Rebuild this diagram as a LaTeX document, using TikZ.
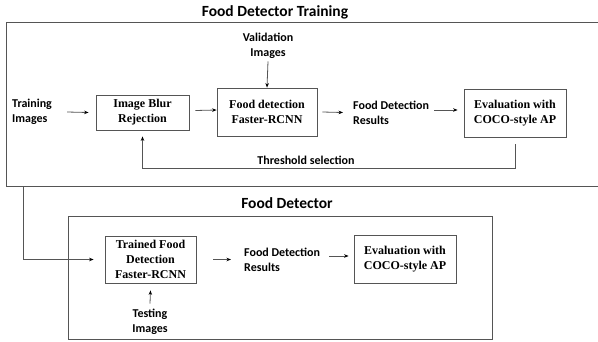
\documentclass[tikz,border=0pt]{standalone}
\usepackage{fontspec}
\setmainfont{Liberation Serif}
\newfontfamily\calib{Carlito}
\usetikzlibrary{arrows.meta,calc}
\definecolor{linegray}{HTML}{555555}
\tikzset{
  procbox/.style={draw=linegray, line width=0.8pt, align=center, inner sep=0pt, font=\bfseries\fontsize{12}{15}\selectfont},
  lbl/.style={align=left, inner sep=0pt, font=\calib\bfseries\fontsize{12}{15}\selectfont},
  lblc/.style={align=center, inner sep=0pt, font=\calib\bfseries\fontsize{12}{15}\selectfont},
  ttl/.style={inner sep=0pt, font=\calib\bfseries\fontsize{15.5}{18}\selectfont},
  frame/.style={draw=linegray, line width=0.9pt},
  conn/.style={draw=linegray, line width=0.8pt, -{Stealth[length=4.5pt,width=3.5pt,black]}},
  plain/.style={draw=linegray, line width=0.8pt}
}
\begin{document}
\begin{tikzpicture}[x=1pt,y=-1pt]
\useasboundingbox (0,0) rectangle (598,341);
% frames
\draw[frame] (598,22) -- (6,22) -- (6,186) -- (598,186);
\draw[frame] (68,216) rectangle (492,339);
\node[ttl] (t1) at (275,12) {Food Detector Training};
\node[ttl] (t2) at (287,203) {Food Detector};
% top row
\node[lbl, anchor=west] (train) at (12,112) {Training\\Images};
\node[procbox, minimum width=93pt, minimum height=35pt] (blur) at (142.5,112.5) {Image Blur\\Rejection};
\node[lblc] (val) at (268,45.5) {Validation\\Images};
\node[procbox, minimum width=100pt, minimum height=48pt] (fd) at (267,112) {Food detection\\Faster-RCNN};
\node[lbl, anchor=west] (res) at (353,112.5) {Food Detection\\Results};
\node[procbox, minimum width=102pt, minimum height=48pt] (ev) at (515,113) {Evaluation with\\COCO-style AP};
\node[lblc] (thr) at (306,160) {Threshold selection};
\coordinate (ctr) at (23,186);
\draw[conn] ([xshift=15pt]train.east) -- ([xshift=-7pt]blur.west);
\draw[conn] ([xshift=6pt,yshift=2pt]blur.east) -- ([yshift=2pt]fd.west);
\draw[conn] ([yshift=-3pt]val.south) -- (fd.north);
\draw[conn] ([xshift=5pt]fd.east) -- ([xshift=-10pt]res.west);
\draw[conn] ([xshift=5pt,yshift=2.5pt]res.east) -- ([xshift=-6pt,yshift=3pt]ev.west);
\draw[conn] ([yshift=-7pt]ev.south) -- ++(0,24) -| ([yshift=-6pt]blur.south);
% bottom row
\node[procbox, minimum width=91pt, minimum height=47pt] (tr) at (150.5,259.5) {Trained Food\\Detection\\Faster-RCNN};
\node[lblc] (test) at (150,321.5) {Testing\\Images};
\node[lbl, anchor=west] (res2) at (244,259.5) {Food Detection\\Results};
\node[procbox, minimum width=102pt, minimum height=48pt] (ev2) at (405,259) {Evaluation with\\COCO-style AP};
\draw[conn] (ctr) |- ([xshift=-11pt]tr.west);
\draw[conn] ([yshift=5pt]test.north) -- ([yshift=-7pt]tr.south);
\draw[conn] ([xshift=17pt]tr.east) -- ([xshift=-13pt]res2.west);
\draw[conn] ([xshift=9pt,yshift=3.5pt]res2.east) -- ([xshift=-5pt,yshift=3pt]ev2.west);
\end{tikzpicture}
\end{document}
